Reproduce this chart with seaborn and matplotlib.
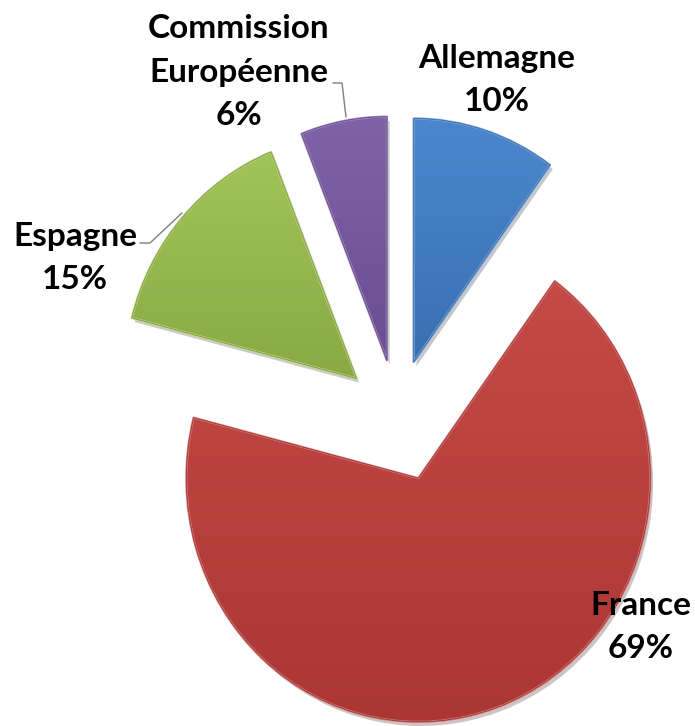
import numpy as np
import matplotlib
matplotlib.use("Agg")
import matplotlib.pyplot as plt
import matplotlib.patches as mpatches
import matplotlib.patheffects as pe
from matplotlib.colors import to_rgb
import seaborn as sns

# données
pays = ["Allemagne", "France", "Espagne", "Commission\nEuropéenne"]
parts = [10, 69, 15, 6]
couleurs = ["#407FCA", "#C23E3B", "#9CC04D", "#7858A3"]
ecarts = [54, 63, 54, 54]  # écartement des parts (en pixels)

sns.set_theme(style="white")
plt.rcParams['font.family'] = ['Lato', 'DejaVu Sans']

W, H = 695, 726
sy = 1.05  # léger étirement vertical du camembert


def px(x, y):
    # coordonnées pixel -> coordonnées des axes
    return x, (H - y) / sy


fig = plt.figure(figsize=(W / 100, H / 100), dpi=100)
ax = fig.add_axes([0, 0, 1, 1])

cx, cy = px(397, 416)
r = 232
wedges, _ = ax.pie(parts, explode=ecarts, colors=couleurs, startangle=90,
                   counterclock=False, radius=r, center=(cx, cy),
                   wedgeprops=dict(linewidth=0))

for w, c in zip(wedges, couleurs):
    base = np.array(to_rgb(c))
    haut = base + (1 - base) * 0.06
    bas = base * 0.88
    t = np.linspace(0, 1, 256)[:, None]
    grad = haut[None, :] * (1 - t) + bas[None, :] * t
    img = np.repeat(grad[:, None, :], 2, axis=1)
    bb = w.get_path().get_extents(w.get_patch_transform())
    im = ax.imshow(img, extent=(bb.x0, bb.x1, bb.y0, bb.y1), origin='upper',
                   aspect='auto', zorder=1.5, interpolation='bilinear')
    im.set_clip_path(w)
    w.set_path_effects([pe.SimplePatchShadow(offset=(2, -3), alpha=0.25),
                        pe.Normal()])
    contour = mpatches.Wedge(w.center, w.r, w.theta1, w.theta2, fill=False,
                             edgecolor=base + (1 - base) * 0.3, linewidth=1.6,
                             zorder=2, joinstyle='round')
    ax.add_patch(contour)
    contour2 = mpatches.Wedge(w.center, w.r, w.theta1, w.theta2, fill=False,
                              edgecolor=base * 0.75, linewidth=0.5, zorder=2.1)
    ax.add_patch(contour2)

# étiquettes
pos_labels = [(497, 80), (641, 627), (75, 258), (239, 72)]
for nom, val, (lx, ly) in zip(pays, parts, pos_labels):
    ax.text(*px(lx, ly), f"{nom}\n{val}%", ha='center', va='center',
            fontsize=24, fontweight='bold', color='black', linespacing=1.6,
            zorder=3)

# lignes de rappel
ax.plot(*zip(px(333, 83), px(342, 83), px(346, 117)), color='#7f7f7f', lw=1, zorder=2.5)
ax.plot(*zip(px(140, 243), px(150, 243), px(182, 213)), color='#7f7f7f', lw=1, zorder=2.5)

ax.set_aspect('auto')
ax.set_xlim(0, W)
ax.set_ylim(0, H / sy)
ax.axis('off')

plt.savefig('out.png', dpi=100, facecolor='white')
plt.close()
